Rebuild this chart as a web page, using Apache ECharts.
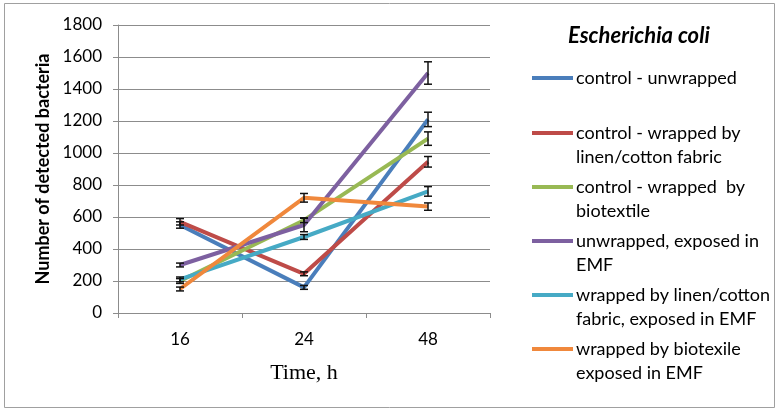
<!DOCTYPE html>
<html lang="en">
<head>
    <meta charset="UTF-8">
    <title>Escherichia coli</title>
    <script src="https://cdn.jsdelivr.net/npm/echarts@6/dist/echarts.min.js"></script>
    <style>
        html, body { margin: 0; padding: 0; background: #fff; }
    </style>
</head>
<body>
<div id="main" style="width: 778px;height:410px;"></div>

<script type="text/javascript">
    // time points (h)
    var categories = ['16', '24', '48'];

    // mean counts
    var ctrlUnwrapped = [550, 160, 1210];
    var ctrlLinen = [570, 245, 945];
    var ctrlBiotextile = [200, 580, 1090];
    var emfUnwrapped = [300, 550, 1500];
    var emfLinen = [210, 475, 760];
    var emfBiotextile = [150, 720, 665];

    // error bar half-heights
    var errCtrlUnwrapped = [20, 12, 45];
    var errCtrlLinen = [20, 12, 33];
    var errCtrlBiotextile = [15, 15, 42];
    var errEmfUnwrapped = [12, 42, 70];
    var errEmfLinen = [15, 15, 30];
    var errEmfBiotextile = [12, 27, 23];

    var seriesNames = [
        'control - unwrapped',
        'control - wrapped by linen/cotton fabric',
        'control - wrapped  by biotextile',
        'unwrapped, exposed in EMF',
        'wrapped by linen/cotton fabric, exposed in EMF',
        'wrapped by biotexile exposed in EMF'
    ];
    var legendLabels = [
        'control - unwrapped',
        'control - wrapped by\nlinen/cotton fabric',
        'control - wrapped  by\nbiotextile',
        'unwrapped, exposed in\nEMF',
        'wrapped by linen/cotton\nfabric, exposed in EMF',
        'wrapped by biotexile\nexposed in EMF'
    ];
    var colors = ['#4A7EBB', '#BE4B48', '#98B954', '#7D60A0', '#46AAC5', '#F0883C'];

    var allValues = [ctrlUnwrapped, ctrlLinen, ctrlBiotextile, emfUnwrapped, emfLinen, emfBiotextile];
    var allErrs = [errCtrlUnwrapped, errCtrlLinen, errCtrlBiotextile, errEmfUnwrapped, errEmfLinen, errEmfBiotextile];

    var font = 'Lato, "Noto Sans", sans-serif';

    var series = [];
    var errData = [];
    for (var i = 0; i < allValues.length; i++) {
        series.push({
            name: seriesNames[i],
            type: 'line',
            data: allValues[i],
            symbol: 'none',
            lineStyle: { width: 4, color: colors[i] },
            z: 2
        });
        for (var j = 0; j < categories.length; j++) {
            errData.push([j, allValues[i][j] - allErrs[i][j], allValues[i][j] + allErrs[i][j]]);
        }
    }

    // error bars
    series.push({
        type: 'custom',
        data: errData,
        z: 5,
        renderItem: function (params, api) {
            var lo = api.coord([api.value(0), api.value(1)]);
            var hi = api.coord([api.value(0), api.value(2)]);
            var w = 4;
            var st = { stroke: '#111', lineWidth: 1.5 };
            return {
                type: 'group',
                children: [
                    { type: 'line', shape: { x1: lo[0], y1: lo[1], x2: hi[0], y2: hi[1] }, style: st },
                    { type: 'line', shape: { x1: lo[0] - w, y1: lo[1], x2: lo[0] + w, y2: lo[1] }, style: st },
                    { type: 'line', shape: { x1: hi[0] - w, y1: hi[1], x2: hi[0] + w, y2: hi[1] }, style: st }
                ]
            };
        }
    });

    // legend drawn by hand so the swatch sits on the first text line
    var rowY = [78, 133, 187, 241, 295, 349];
    var graphics = [{
        type: 'rect',
        shape: { x: 4.5, y: 3.5, width: 770, height: 404 },
        style: { fill: 'none', stroke: '#a0a0a0', lineWidth: 1 },
        silent: true
    }];
    for (var k = 0; k < legendLabels.length; k++) {
        graphics.push({
            type: 'line',
            shape: { x1: 532, y1: rowY[k], x2: 573, y2: rowY[k] },
            style: { stroke: colors[k], lineWidth: 4 }
        });
        graphics.push({
            type: 'text',
            x: 576,
            y: rowY[k] - 12,
            style: {
                text: legendLabels[k],
                font: '18px ' + font,
                lineHeight: 24,
                fill: '#000',
                verticalAlign: 'top'
            }
        });
    }

    var myChart = echarts.init(document.getElementById('main'));
    var option = {
        animation: false,
        backgroundColor: '#fff',
        title: {
            text: 'Escherichia coli',
            left: 563,
            top: 20,
            textStyle: { fontFamily: font, fontSize: 22, fontWeight: 'bold', fontStyle: 'italic', color: '#000' }
        },
        grid: { left: 118, right: 288, top: 25, bottom: 97 },
        xAxis: {
            type: 'category',
            data: categories,
            name: 'Time, h',
            nameLocation: 'middle',
            nameGap: 49,
            nameTextStyle: { fontFamily: '"Liberation Serif", serif', fontSize: 22, color: '#000' },
            axisLine: { lineStyle: { color: '#8c8c8c', width: 1 } },
            axisTick: { show: true, length: 5, lineStyle: { color: '#8c8c8c' } },
            axisLabel: { fontFamily: font, fontSize: 17, color: '#000', margin: 18 }
        },
        yAxis: {
            type: 'value',
            min: 0,
            max: 1800,
            interval: 200,
            name: 'Number of detected bacteria',
            nameLocation: 'middle',
            nameGap: 66,
            nameTextStyle: { fontFamily: font, fontSize: 18, fontWeight: 'bold', color: '#000' },
            axisLine: { show: true, lineStyle: { color: '#8c8c8c', width: 1 } },
            axisTick: { show: true, length: 5, lineStyle: { color: '#8c8c8c' } },
            splitLine: { lineStyle: { color: '#8c8c8c', width: 1 } },
            axisLabel: {
                fontFamily: font, fontSize: 17, color: '#000', margin: 16,
                formatter: function (v) { return String(v); }
            }
        },
        graphic: graphics,
        series: series
    };
    myChart.setOption(option);
</script>
</body>
</html>
